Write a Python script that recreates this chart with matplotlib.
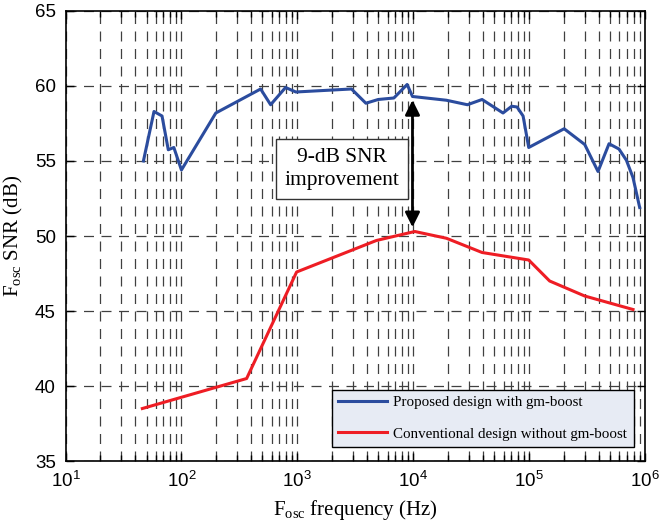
import numpy as np
import matplotlib
matplotlib.use("Agg")
from matplotlib import pyplot as plt
from matplotlib.ticker import LogLocator

plt.rcParams['font.family'] = 'Liberation Sans'
plt.rcParams['mathtext.fontset'] = 'custom'
plt.rcParams['mathtext.rm'] = 'Liberation Serif'
plt.rcParams['mathtext.default'] = 'regular'

# data
f_boost = [47, 58, 68, 77, 86, 100, 198, 482, 588, 791, 970, 2930, 3900, 4980,
           6800, 8850, 9840, 19300, 29300, 39200, 59400, 70600, 78500, 88500,
           99000, 200000, 301000, 392000, 488000, 594000, 689000, 785000, 897000]
snr_boost = [55.0, 58.3, 58.0, 55.75, 55.9, 54.4, 58.2, 59.8, 58.75, 59.9, 59.6,
             59.8, 58.85, 59.1, 59.2, 60.1, 59.3, 59.05, 58.75, 59.1, 58.2, 58.65,
             58.6, 58.0, 55.9, 57.15, 56.1, 54.3, 56.15, 55.8, 55.05, 53.9, 51.9]

f_conv = [46, 365, 985, 4800, 10300, 19300, 39200, 99000, 150000, 301000, 786000]
snr_conv = [38.5, 40.5, 47.6, 49.7, 50.3, 49.85, 48.9, 48.4, 47.0, 46.0, 45.1]

labels = ['Proposed design with gm-boost', 'Conventional design without gm-boost']

fig = plt.figure(figsize=(6.59, 5.23), dpi=100)
ax = fig.add_axes([0.0994, 0.1185, 0.8796, 0.8605])

ax.semilogx(f_boost, snr_boost, color='#2b4c9e', lw=2.2, label=labels[0])
ax.semilogx(f_conv, snr_conv, color='#ee1d24', lw=2.2, label=labels[1])

ax.set_xlim(10, 1e6)
ax.set_ylim(35, 65)
ax.set_yticks([35, 40, 45, 50, 55, 60, 65])
ax.xaxis.set_major_locator(LogLocator(base=10, numticks=10))
ax.xaxis.set_minor_locator(LogLocator(base=10, subs=np.arange(2, 10), numticks=20))
ax.xaxis.set_minor_formatter(plt.NullFormatter())

ax.grid(True, which='major', axis='both', color='#404040', lw=0.9, ls=(0, (8, 6)))
ax.grid(True, which='minor', axis='x', color='#404040', lw=0.9, ls=(0, (8, 6)))

ax.tick_params(which='both', direction='in', top=True, right=True, labelsize=13.5,
               width=1, pad=7)
ax.tick_params(which='major', length=6)
ax.tick_params(which='minor', length=4)
for s in ax.spines.values():
    s.set_linewidth(1.2)

ax.set_xlabel('F$_{\\mathrm{osc}}$ frequency (Hz)', family='Liberation Serif',
              fontsize=15, labelpad=5)
ax.set_ylabel('F$_{\\mathrm{osc}}$ SNR (dB)', family='Liberation Serif',
              fontsize=15, labelpad=7)

ax.annotate('', xy=(9840, 59.25), xytext=(9840, 50.4),
            arrowprops=dict(arrowstyle='<|-|>', color='black', lw=2,
                            mutation_scale=22))
ax.text(2410, 54.46, '9-dB SNR\nimprovement', family='Liberation Serif',
        fontsize=15.5, ha='center', va='center', linespacing=1.3,
        bbox=dict(boxstyle='square,pad=0.4', fc='white', ec='#333333', lw=1))

leg = ax.legend(loc='lower left', bbox_to_anchor=(0.459, 0.032, 0.522, 0.141),
                mode='expand', borderaxespad=0, fancybox=False,
                prop={'family': 'Liberation Serif', 'size': 10.8},
                handlelength=3.3, handletextpad=0.4, labelspacing=1.2,
                framealpha=1)
leg.get_frame().set_facecolor('#e7ebf4')
leg.get_frame().set_edgecolor('black')
leg.get_frame().set_linewidth(1)

plt.savefig('out.png', dpi=100)
